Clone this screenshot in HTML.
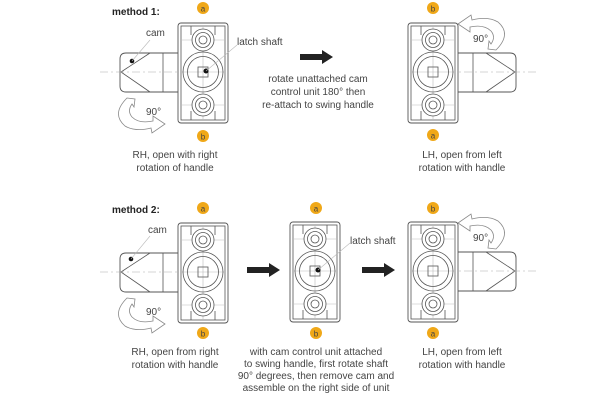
<!DOCTYPE html>
<html><head><style>
html,body{margin:0;padding:0;background:#fff}
svg{display:block}
text{font-family:"Liberation Sans",sans-serif;font-size:10px;fill:#444}
</style></head><body>
<svg width="600" height="400" viewBox="0 0 600 400" xmlns="http://www.w3.org/2000/svg">
<defs>
<g id="body">
  <rect x="0" y="0" width="50" height="100" rx="3" fill="#fff" stroke="#555" stroke-width="0.9"/>
  <rect x="3" y="3" width="44" height="94" fill="none" stroke="#555" stroke-width="0.8"/>
  <g stroke="#bbb" stroke-width="0.6">
    <line x1="3" y1="17" x2="47" y2="17"/><line x1="3" y1="49" x2="47" y2="49"/><line x1="3" y1="82" x2="47" y2="82"/>
    <line x1="25" y1="3" x2="25" y2="97"/>
  </g>
  <g stroke="#555" stroke-width="0.8" fill="none">
    <line x1="13" y1="3" x2="13" y2="12"/><line x1="37" y1="3" x2="37" y2="12"/>
    <line x1="13" y1="88" x2="13" y2="97"/><line x1="37" y1="88" x2="37" y2="97"/>
    <circle cx="25" cy="17" r="11" fill="#fff"/><circle cx="25" cy="17" r="7.5"/><circle cx="25" cy="17" r="4"/>
    <circle cx="25" cy="82" r="11" fill="#fff"/><circle cx="25" cy="82" r="7.5"/><circle cx="25" cy="82" r="4"/>
    <circle cx="25" cy="49" r="20"/><circle cx="25" cy="49" r="15.5"/>
    <rect x="20" y="44" width="10" height="10"/>
  </g>
</g>
<g id="camL">
  <path d="M0,30 H-52 Q-58,30 -58,36 V63 Q-58,69 -52,69 H0" fill="#fff" stroke="#555" stroke-width="0.9"/>
  <line x1="-15" y1="30" x2="-15" y2="69" stroke="#555" stroke-width="0.8"/>
  <path d="M-28,30 L-57,49 L-28,69" fill="none" stroke="#555" stroke-width="0.8"/>
  <line x1="-78" y1="49" x2="0" y2="49" stroke="#aaa" stroke-width="0.6" stroke-dasharray="8,3,2,3"/>
</g>
<g id="rot">
  <path d="M12,0 Q-4,16 10,28 Q20,34 36,30 L37,35 L50,26 L38,18 L38,23 Q24,26 17,19 Q12,13 17,6 L19,9 L20,1 Z" fill="#fff" stroke="#888" stroke-width="0.8"/>
</g>
<g id="arrow"><path d="M0,-3 H22 V-7 L33,0 L22,7 V3 H0 Z" fill="#222"/></g>
<g id="badge"><circle r="6" fill="#f0a818"/></g>
</defs>

<!-- method 1 -->
<text x="112" y="15" style="font-weight:bold;fill:#222">method 1:</text>
<use href="#camL" x="178" y="23"/>
<use href="#body" x="178" y="23"/>
<circle cx="132" cy="61" r="2.3" fill="#111"/>
<line x1="132" y1="61" x2="150" y2="40" stroke="#bbb" stroke-width="0.6"/>
<text x="146" y="36">cam</text>
<circle cx="206" cy="71" r="2.5" fill="#111"/>
<line x1="206" y1="71" x2="237" y2="45" stroke="#bbb" stroke-width="0.6"/>
<text x="237" y="45">latch shaft</text>
<use href="#badge" x="203" y="8"/><text x="203" y="11.5" text-anchor="middle" style="font-size:8px">a</text>
<use href="#badge" x="203" y="136"/><text x="203" y="139.5" text-anchor="middle" style="font-size:8px">b</text>
<use href="#rot" x="115" y="98"/><text x="146" y="115">90°</text>
<text x="175" y="158" text-anchor="middle">RH, open with right</text>
<text x="175" y="171" text-anchor="middle">rotation of handle</text>

<use href="#arrow" x="300" y="57"/>
<text x="318" y="82" text-anchor="middle">rotate unattached cam</text>
<text x="318" y="95" text-anchor="middle">control unit 180° then</text>
<text x="318" y="108" text-anchor="middle">re-attach to swing handle</text>

<use href="#camL" transform="translate(458,23) scale(-1,1)"/>
<use href="#body" x="408" y="23"/>
<use href="#badge" x="433" y="8"/><text x="433" y="11.5" text-anchor="middle" style="font-size:8px">b</text>
<use href="#badge" x="433" y="135"/><text x="433" y="138.5" text-anchor="middle" style="font-size:8px">a</text>
<use href="#rot" transform="translate(508,50) rotate(180)"/><text x="473" y="42">90°</text>
<text x="462" y="158" text-anchor="middle">LH, open from left</text>
<text x="462" y="171" text-anchor="middle">rotation with handle</text>

<!-- method 2 -->
<text x="112" y="213" style="font-weight:bold;fill:#222">method 2:</text>
<use href="#camL" x="178" y="223"/>
<use href="#body" x="178" y="223"/>
<circle cx="131" cy="259" r="2.3" fill="#111"/>
<line x1="131" y1="259" x2="150" y2="236" stroke="#bbb" stroke-width="0.6"/>
<text x="148" y="233">cam</text>
<use href="#badge" x="203" y="208"/><text x="203" y="211.5" text-anchor="middle" style="font-size:8px">a</text>
<use href="#badge" x="203" y="333"/><text x="203" y="336.5" text-anchor="middle" style="font-size:8px">b</text>
<use href="#rot" x="115" y="298"/><text x="146" y="315">90°</text>
<text x="175" y="355" text-anchor="middle">RH, open from right</text>
<text x="175" y="368" text-anchor="middle">rotation with handle</text>

<use href="#arrow" x="247" y="270"/>
<use href="#body" x="290" y="222"/>
<circle cx="318" cy="270" r="2.5" fill="#111"/>
<line x1="318" y1="270" x2="350" y2="243" stroke="#bbb" stroke-width="0.6"/>
<text x="350" y="244">latch shaft</text>
<use href="#badge" x="316" y="208"/><text x="316" y="211.5" text-anchor="middle" style="font-size:8px">a</text>
<use href="#badge" x="316" y="333"/><text x="316" y="336.5" text-anchor="middle" style="font-size:8px">b</text>
<text x="316" y="355" text-anchor="middle">with cam control unit attached</text>
<text x="316" y="367" text-anchor="middle">to swing handle, first rotate shaft</text>
<text x="316" y="379" text-anchor="middle">90° degrees, then remove cam and</text>
<text x="316" y="391" text-anchor="middle">assemble on the right side of unit</text>

<use href="#arrow" x="362" y="270"/>
<use href="#camL" transform="translate(458,222) scale(-1,1)"/>
<use href="#body" x="408" y="222"/>
<use href="#badge" x="433" y="208"/><text x="433" y="211.5" text-anchor="middle" style="font-size:8px">b</text>
<use href="#badge" x="433" y="333"/><text x="433" y="336.5" text-anchor="middle" style="font-size:8px">a</text>
<use href="#rot" transform="translate(508,249) rotate(180)"/><text x="473" y="241">90°</text>
<text x="462" y="355" text-anchor="middle">LH, open from left</text>
<text x="462" y="368" text-anchor="middle">rotation with handle</text>
</svg>
</body></html>
